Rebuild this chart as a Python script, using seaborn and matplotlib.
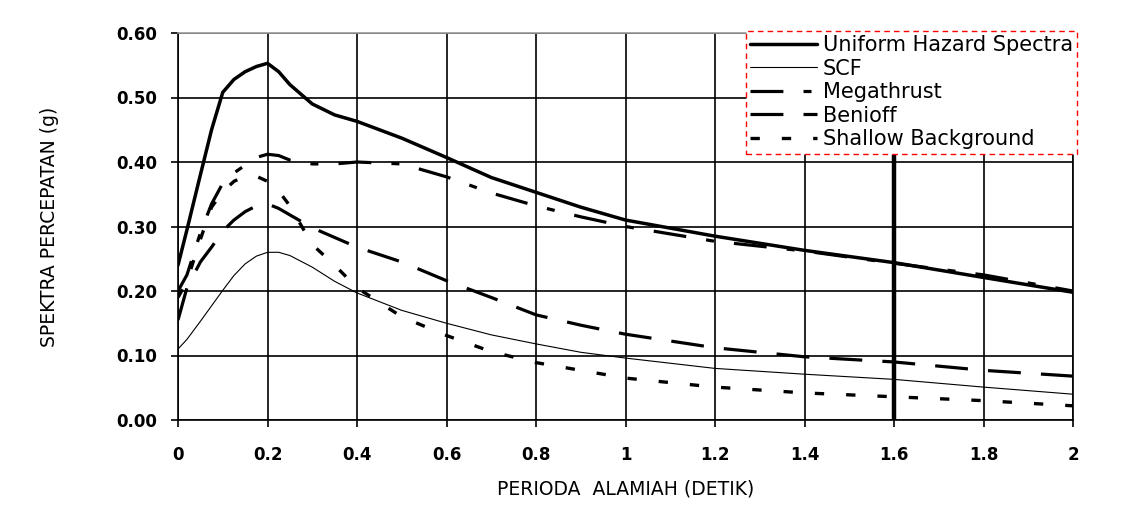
import matplotlib
matplotlib.use("Agg")
import matplotlib.pyplot as plt
import seaborn as sns
import pandas as pd

# periode (detik) dan spektra percepatan (g)
periods = [0, 0.02, 0.05, 0.075, 0.1, 0.125, 0.15, 0.175, 0.2, 0.225, 0.25,
           0.3, 0.35, 0.4, 0.5, 0.6, 0.7, 0.8, 0.9, 1.0, 1.2, 1.4, 1.6, 1.8, 2.0]

uhs = [0.240, 0.295, 0.380, 0.450, 0.508, 0.528, 0.540, 0.548, 0.553, 0.540, 0.520,
       0.490, 0.473, 0.463, 0.437, 0.407, 0.376, 0.353, 0.330, 0.310, 0.285, 0.263,
       0.244, 0.221, 0.198]
scf = [0.110, 0.125, 0.153, 0.177, 0.201, 0.224, 0.242, 0.254, 0.260, 0.260, 0.255,
       0.237, 0.215, 0.197, 0.170, 0.150, 0.132, 0.118, 0.105, 0.096, 0.080, 0.071,
       0.063, 0.051, 0.040]
megathrust = [0.200, 0.225, 0.290, 0.335, 0.367, 0.383, 0.395, 0.407, 0.412, 0.410, 0.403,
              0.397, 0.397, 0.400, 0.397, 0.377, 0.352, 0.332, 0.315, 0.300, 0.277, 0.262,
              0.243, 0.225, 0.200]
benioff = [0.155, 0.205, 0.245, 0.268, 0.293, 0.310, 0.323, 0.332, 0.335, 0.328, 0.318,
           0.298, 0.283, 0.268, 0.245, 0.216, 0.190, 0.163, 0.147, 0.133, 0.112, 0.098,
           0.090, 0.077, 0.068]
shallow = [0.190, 0.215, 0.280, 0.330, 0.354, 0.370, 0.378, 0.378, 0.370, 0.355, 0.332,
           0.272, 0.240, 0.205, 0.160, 0.131, 0.106, 0.089, 0.077, 0.065, 0.051, 0.042,
           0.036, 0.030, 0.022]

labels = ["Uniform Hazard Spectra", "SCF", "Megathrust", "Benioff", "Shallow Background"]
x_ticks = [0, 0.2, 0.4, 0.6, 0.8, 1.0, 1.2, 1.4, 1.6, 1.8, 2.0]
x_ticklabels = ["0", "0.2", "0.4", "0.6", "0.8", "1", "1.2", "1.4", "1.6", "1.8", "2"]
y_ticks = [0.0, 0.1, 0.2, 0.3, 0.4, 0.5, 0.6]

styles = {
    "Uniform Hazard Spectra": dict(lw=2.5, ls="-"),
    "SCF": dict(lw=0.8, ls="-"),
    "Megathrust": dict(lw=2.3, ls=(0, (10.3, 6.3, 2.5, 6.3))),
    "Benioff": dict(lw=2.3, ls=(0, (10.3, 6.3))),
    "Shallow Background": dict(lw=2.4, ls=(0, (2.8, 6.6))),
}

df = pd.DataFrame({"T": periods, labels[0]: uhs, labels[1]: scf, labels[2]: megathrust,
                   labels[3]: benioff, labels[4]: shallow})
long_df = df.melt(id_vars="T", var_name="seri", value_name="Sa")

sns.set_style("white")
plt.rcParams["font.family"] = ["DejaVu Sans"]
plt.rcParams["text.color"] = "black"
plt.rcParams["axes.labelcolor"] = "black"
plt.rcParams["xtick.color"] = "black"
plt.rcParams["ytick.color"] = "black"

fig = plt.figure(figsize=(11.22, 5.23), dpi=100)
ax = fig.add_axes([178 / 1122, 103 / 523, 895 / 1122, 387 / 523])

for name in labels:
    sub = long_df[long_df["seri"] == name]
    st = styles[name]
    sns.lineplot(data=sub, x="T", y="Sa", ax=ax, color="black", linewidth=st["lw"],
                 linestyle=st["ls"], estimator=None, label=name, zorder=3)

ax.set_xlim(0, 2)
ax.set_ylim(0, 0.6)
ax.set_xticks(x_ticks)
ax.set_xticklabels(x_ticklabels)
ax.set_yticks(y_ticks)
ax.set_yticklabels([f"{v:.2f}" for v in y_ticks])
ax.grid(True, color="black", linewidth=1.2)
ax.set_axisbelow(True)
# garis 1.6 tampak lebih tebal pada gambar asli
ax.get_xgridlines()[8].set_linewidth(3.2)

for side in ["left", "bottom", "right"]:
    ax.spines[side].set_color("black")
    ax.spines[side].set_linewidth(1.2)
ax.spines["top"].set_color("#999999")
ax.spines["top"].set_linewidth(1.2)

ax.tick_params(axis="both", which="major", direction="out", length=5, width=1.2,
               colors="black", labelsize=12, pad=10, left=True, bottom=True)
ax.tick_params(axis="x", pad=14)
for t in ax.get_xticklabels() + ax.get_yticklabels():
    t.set_fontweight("bold")
    t.set_color("black")

ax.set_xlabel("PERIODA  ALAMIAH (DETIK)", fontsize=13.5, labelpad=11, color="black")
ax.set_ylabel("SPEKTRA PERCEPATAN (g)", fontsize=13.5, labelpad=41, color="black")

leg = ax.legend(loc="upper left", bbox_to_anchor=(746 / 1122, 1 - 31 / 523),
                bbox_transform=fig.transFigure, frameon=True, fancybox=False,
                fontsize=15, handlelength=3.2, handletextpad=0.3, labelspacing=0.17,
                borderpad=0.2, borderaxespad=0)
for txt in leg.get_texts():
    txt.set_color("black")
frame = leg.get_frame()
frame.set_edgecolor("red")
frame.set_linestyle((0, (4, 3)))
frame.set_linewidth(1.0)
frame.set_facecolor("white")
frame.set_alpha(1)
leg.set_zorder(10)

fig.savefig("out.png", dpi=100)
